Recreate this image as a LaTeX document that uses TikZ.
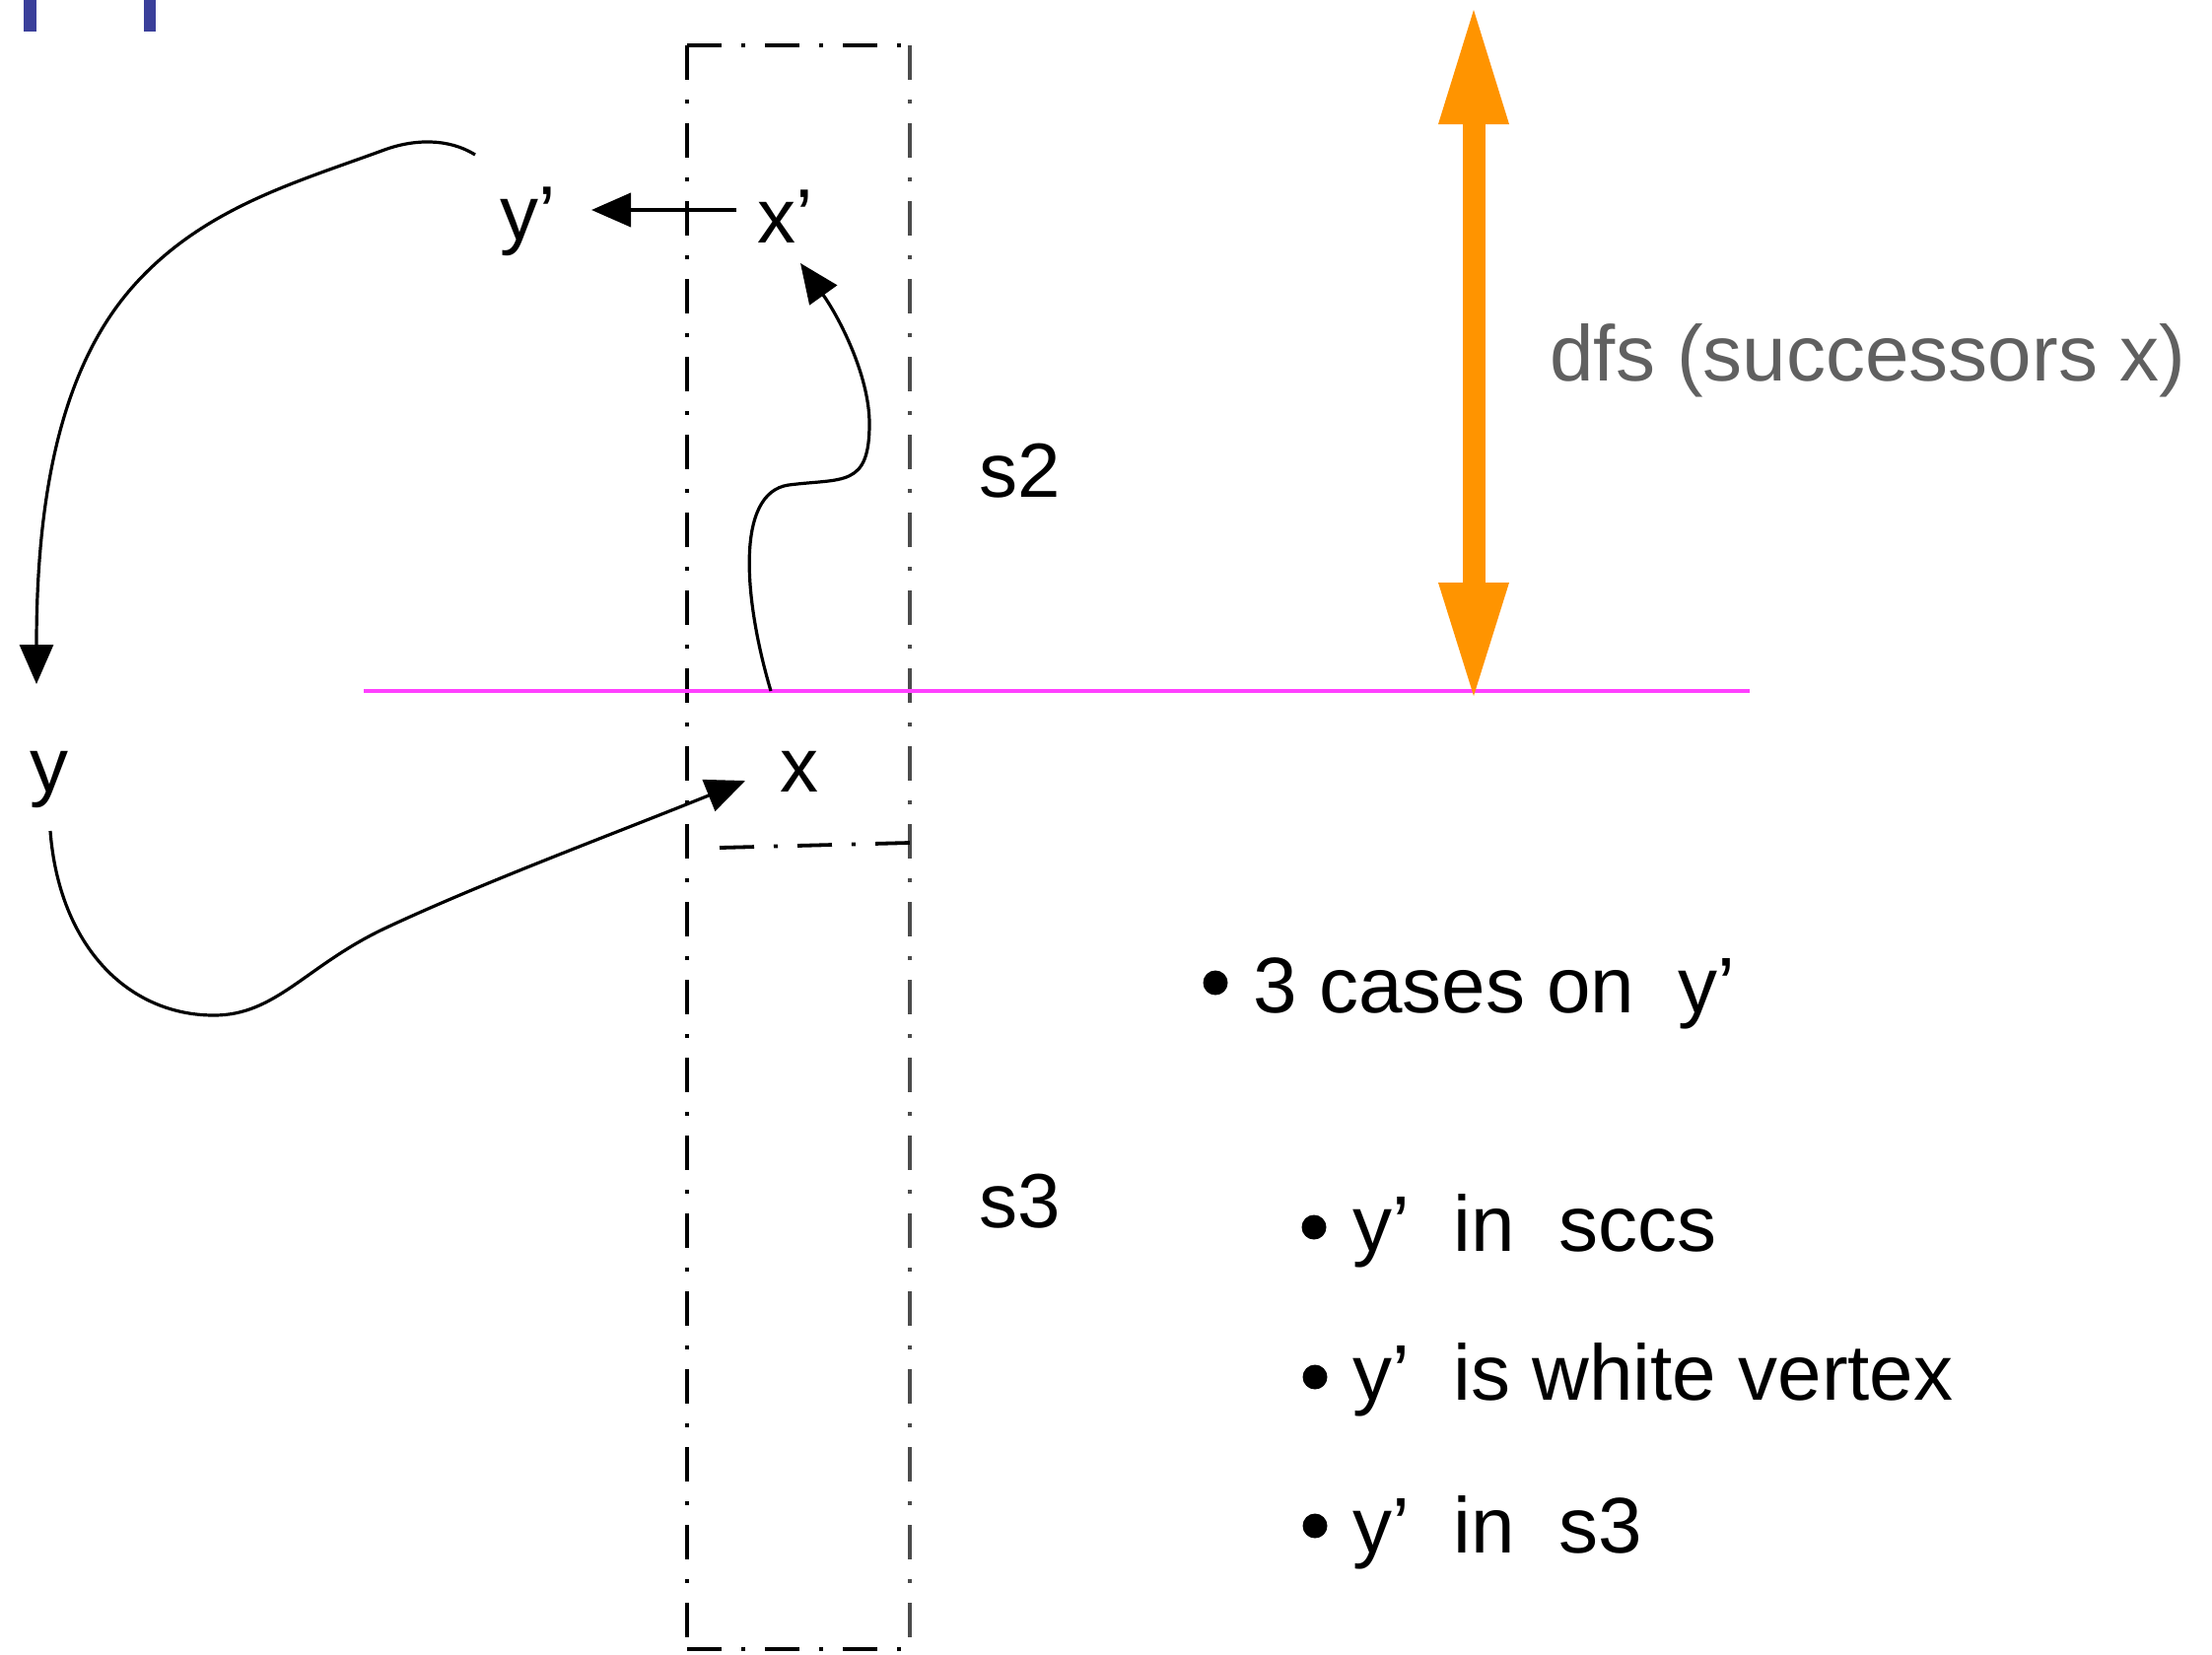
\documentclass[tikz,border=0pt]{standalone}
\usepackage{fontspec}
\setmainfont{Liberation Sans}
\usetikzlibrary{arrows.meta}
\definecolor{dfsorange}{RGB}{255,148,0}
\definecolor{cutpink}{RGB}{255,64,255}
\definecolor{barblue}{RGB}{58,63,154}
\definecolor{dfsgray}{RGB}{96,96,96}
\begin{document}
\begin{tikzpicture}[x=0.5pt,y=-0.5pt,
  lbl/.style={anchor=base west,inner sep=0pt,font=\fontsize{39}{46}\selectfont},
  txt/.style={anchor=base west,inner sep=0pt,font=\fontsize{40}{48}\selectfont},
  edge/.style={line width=1.6pt,-{Triangle[length=20pt,width=17pt]}},
  dashdot/.style={line width=1.9pt,dash pattern=on 17.5pt off 10pt on 2pt off 10pt},
  bul/.style={circle,fill=black,inner sep=0pt,minimum size=12.5pt}]
\useasboundingbox (0,0) rectangle (2244,1678);
\fill[white] (0,0) rectangle (2244,1678);

% blue bars at top left
\fill[barblue] (24,0) rectangle (37,32);
\fill[barblue] (146,0) rectangle (158,32);

% dash-dot boxes
\draw[dashdot] (697,46) -- (697,1673);
\draw[dashdot,black!70] (923,46) -- (923,1673);
\draw[dashdot] (697,46) -- (923,46);
\draw[dashdot] (730,860) -- (923,855);
\draw[dashdot] (697,1673) -- (923,1673);

% pink cut line
\draw[cutpink,line width=2pt] (369,701) -- (1775,701);

% orange double arrow
\fill[dfsorange] (1483.5,125) rectangle (1506.5,592);
\fill[dfsorange] (1459,126) -- (1495,10) -- (1531,126) -- cycle;
\fill[dfsorange] (1459,591) -- (1495,706) -- (1531,591) -- cycle;

% labels
\node[lbl] (yp) at (507,243) {y’};
\node[lbl] (xp) at (768,246) {x’};
\node[lbl] (x) at (791,803) {x};
\node[lbl] (y) at (30,803) {y};
\node[lbl] (s2) at (993,504) {s2};
\node[lbl] (s3) at (993,1245) {s3};
\node[txt,text=dfsgray] (dfs) at (1572,386) {dfs (successors x)};

% bullet list
\node[bul] (b0) at (1233,997) {};
\node[txt] (t0) at (1271,1027) {3 cases on\ \ y’};
\node[bul] (b1) at (1333,1245) {};
\node[txt] (t1) at (1372,1269) {y’\ \ in\ \ sccs};
\node[bul] (b2) at (1334,1397) {};
\node[txt] (t2) at (1372,1420) {y’\ \ is white vertex};
\node[bul] (b3) at (1334,1548) {};
\node[txt] (t3) at (1372,1575) {y’\ \ in\ \ s3};

% connector end points
\coordinate (arcS) at (482,157);
\coordinate (arcE) at (37,694);
\coordinate (lowS) at (51,843);
\coordinate (lowE) at (756,792);
\coordinate (wavS) at (782,701);
\coordinate (wavE) at (812,267);
\coordinate (hS) at (747,213);
\coordinate (hE) at (600,213);

% connectors
\draw[edge] (arcS) .. controls (455,140) and (420,141) .. (390,152)
  .. controls (300,185) and (210,210) .. (140,285)
  .. controls (70,360) and (37,480) .. (arcE);
\draw[edge] (lowS) .. controls (60,960) and (130,1030) .. (217,1030)
  .. controls (280,1030) and (310,980) .. (390,942)
  .. controls (490,895) and (625,845) .. (lowE);
\draw[edge] (wavS) .. controls (755,610) and (745,500) .. (800,492)
  .. controls (855,485) and (882,495) .. (882,430)
  .. controls (882,380) and (850,320) .. (wavE);
\draw[edge,line width=2pt] (hS) -- (hE);
\end{tikzpicture}
\end{document}
